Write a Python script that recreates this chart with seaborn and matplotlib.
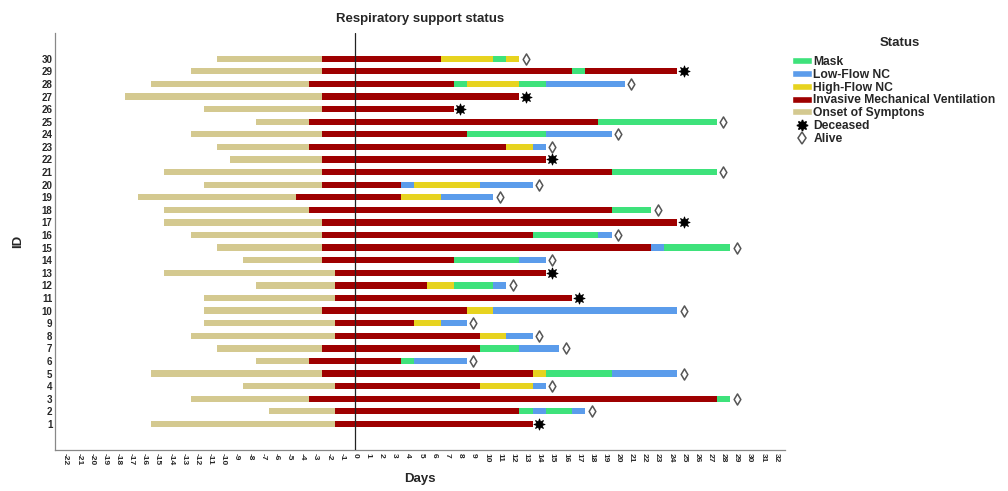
import pandas as pd
import seaborn as sns
import matplotlib.pyplot as plt
from matplotlib.patches import Patch
from matplotlib.lines import Line2D

# patient ids (bottom to top)
ids = list(range(1, 31))

# day of symptom onset, relative to day 0
onset = [-15, -6, -12, -8, -15, -7, -10, -12, -11, -11,
         -11, -7, -14, -8, -10, -12, -14, -14, -16, -11,
         -14, -9, -10, -12, -7, -11, -17, -15, -12, -10]

# support phases after onset: (status, first day)
phases = [
    [("IMV", -1)],
    [("IMV", -1), ("Mask", 13), ("LF", 14), ("Mask", 15), ("LF", 17)],
    [("IMV", -3), ("Mask", 28)],
    [("IMV", -1), ("HF", 10), ("LF", 14)],
    [("IMV", -2), ("HF", 14), ("Mask", 15), ("LF", 20)],
    [("IMV", -3), ("Mask", 4), ("LF", 5)],
    [("IMV", -2), ("Mask", 10), ("LF", 13)],
    [("IMV", -1), ("HF", 10), ("LF", 12)],
    [("IMV", -1), ("HF", 5), ("LF", 7)],
    [("IMV", -2), ("HF", 9), ("LF", 11)],
    [("IMV", -1)],
    [("IMV", -1), ("HF", 6), ("Mask", 8), ("LF", 11)],
    [("IMV", -1)],
    [("IMV", -2), ("Mask", 8), ("LF", 13)],
    [("IMV", -2), ("LF", 23), ("Mask", 24)],
    [("IMV", -2), ("Mask", 14), ("LF", 19)],
    [("IMV", -2)],
    [("IMV", -3), ("Mask", 20)],
    [("IMV", -4), ("HF", 4), ("LF", 7)],
    [("IMV", -2), ("LF", 4), ("HF", 5), ("LF", 10)],
    [("IMV", -2), ("Mask", 20)],
    [("IMV", -2)],
    [("IMV", -3), ("HF", 12), ("LF", 14)],
    [("IMV", -2), ("Mask", 9), ("LF", 15)],
    [("IMV", -3), ("Mask", 19)],
    [("IMV", -2)],
    [("IMV", -2)],
    [("IMV", -3), ("Mask", 8), ("HF", 9), ("Mask", 13), ("LF", 15)],
    [("IMV", -2), ("Mask", 17), ("IMV", 18)],
    [("IMV", -2), ("HF", 7), ("Mask", 11), ("HF", 12)],
]

outcome_day = [14, 18, 29, 15, 25, 9, 16, 14, 9, 25,
               17, 12, 15, 15, 29, 20, 25, 23, 11, 14,
               28, 15, 15, 20, 28, 8, 13, 21, 25, 13]
outcome = ["Deceased", "Alive", "Alive", "Alive", "Alive", "Alive", "Alive", "Alive", "Alive", "Alive",
           "Deceased", "Alive", "Deceased", "Alive", "Alive", "Alive", "Deceased", "Alive", "Alive", "Alive",
           "Alive", "Deceased", "Alive", "Alive", "Alive", "Deceased", "Deceased", "Alive", "Deceased", "Alive"]

colors = {"Mask": "#3ee27b", "LF": "#5b9ceb", "HF": "#e7d31f",
          "IMV": "#9e0000", "Onset": "#d4c990"}
labels = {"Mask": "Mask", "LF": "Low-Flow NC", "HF": "High-Flow NC",
          "IMV": "Invasive Mechanical Ventilation", "Onset": "Onset of Symptons"}

# one row per coloured segment
rows = []
for pid, on, ph, end in zip(ids, onset, phases, outcome_day):
    starts = [("Onset", on)] + ph
    for i, (st, d0) in enumerate(starts):
        d1 = starts[i + 1][1] if i + 1 < len(starts) else end
        rows.append({"id": pid, "status": st, "left": d0 - 0.5, "width": d1 - d0})
seg = pd.DataFrame(rows)
ends = pd.DataFrame({"id": ids, "day": outcome_day, "outcome": outcome})

sns.set_style("white")
plt.rcParams["font.family"] = ["Liberation Sans", "DejaVu Sans"]

fig = plt.figure(figsize=(10.08, 4.91), dpi=100)
ax = fig.add_axes([0.0546, 0.0835, 0.7244, 0.85])

ax.barh(seg["id"], seg["width"], left=seg["left"], height=0.5,
        color=seg["status"].map(colors), linewidth=0)
ax.axvline(0, color="#222222", lw=0.9, zorder=3)

sns.scatterplot(data=ends[ends.outcome == "Deceased"], x="day", y="id", ax=ax,
                marker=(8, 1, 0), s=65, color="black", linewidth=0.6,
                edgecolor="black", zorder=4, legend=False)
sns.scatterplot(data=ends[ends.outcome == "Alive"], x="day", y="id", ax=ax,
                marker="d", s=32, color="white", edgecolor="#555555",
                linewidth=1.1, zorder=4, legend=False)

ax.set_xlim(-22.8, 32.7)
ax.set_ylim(-1.07, 32.07)
ax.set_xticks(range(-22, 33))
ax.set_xticklabels([str(v) for v in range(-22, 33)], rotation=-90,
                   fontsize=6, fontweight="bold")
ax.set_yticks(ids)
ax.set_yticklabels([str(v) for v in ids], fontsize=7, fontweight="bold")
ax.tick_params(length=0, pad=2)
for s in ["top", "right"]:
    ax.spines[s].set_visible(False)
for s in ["left", "bottom"]:
    ax.spines[s].set_color("#888888")
    ax.spines[s].set_linewidth(0.9)

ax.set_title("Respiratory support status", fontsize=9.5, fontweight="bold", pad=8)
ax.set_xlabel("Days", fontsize=9.5, fontweight="bold", labelpad=6)
ax.set_ylabel("ID", fontsize=9.5, fontweight="bold", labelpad=12)

handles = [Patch(facecolor=colors[k], label=labels[k]) for k in ["Mask", "LF", "HF", "IMV", "Onset"]]
handles.append(Line2D([], [], ls="", marker=(8, 1, 0), ms=8, color="black", label="Deceased"))
handles.append(Line2D([], [], ls="", marker="d", ms=6, mfc="white", mec="#555555", mew=1.1, label="Alive"))
ax.legend(handles=handles, loc="upper left",
          bbox_to_anchor=(1.003, 0.956), frameon=False,
          prop={"size": 8.7, "weight": "bold"},
          handlelength=1.6, handleheight=0.5, handletextpad=0.15,
          labelspacing=0.07, borderaxespad=0)
fig.text(900 / 1008, 1 - 43 / 491, "Status", ha="center", va="center",
         fontsize=9.5, fontweight="bold")

fig.savefig("out.png", dpi=100)
